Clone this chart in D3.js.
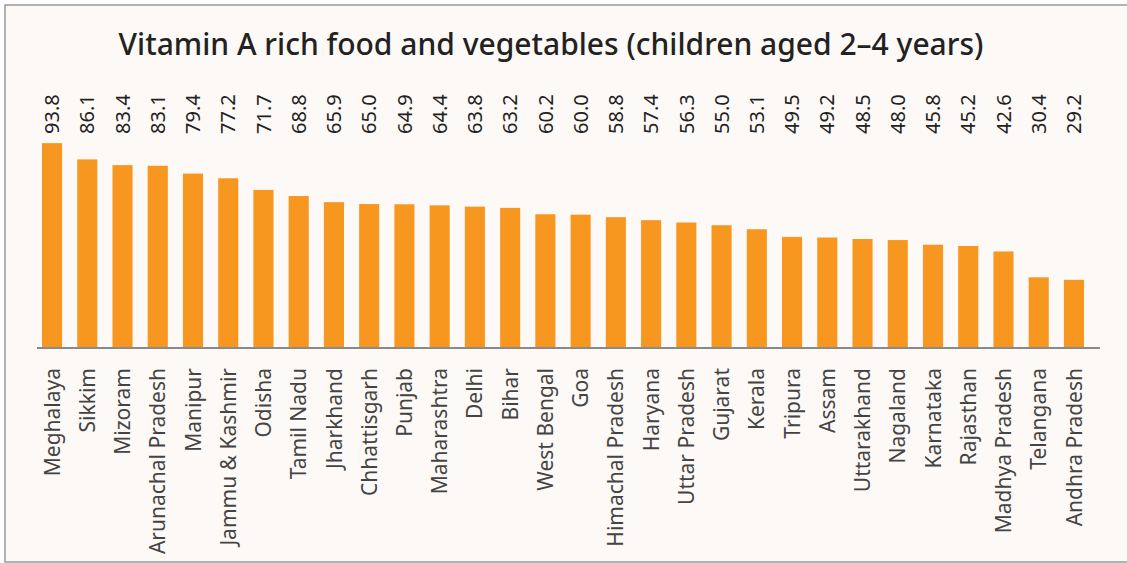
<!DOCTYPE html>
<html>
<head>
<meta charset="utf-8">
<script src="https://cdn.jsdelivr.net/npm/d3@7"></script>
<style>
  body { margin: 0; background: #fff; }
  svg { display: block; }
</style>
</head>
<body>
<div id="chart"></div>
<script>
// data
const states = ["Meghalaya", "Sikkim", "Mizoram", "Arunachal Pradesh", "Manipur", "Jammu & Kashmir",
  "Odisha", "Tamil Nadu", "Jharkhand", "Chhattisgarh", "Punjab", "Maharashtra", "Delhi", "Bihar",
  "West Bengal", "Goa", "Himachal Pradesh", "Haryana", "Uttar Pradesh", "Gujarat", "Kerala",
  "Tripura", "Assam", "Uttarakhand", "Nagaland", "Karnataka", "Rajasthan", "Madhya Pradesh",
  "Telangana", "Andhra Pradesh"];
const values = [93.8, 86.1, 83.4, 83.1, 79.4, 77.2, 71.7, 68.8, 65.9, 65.0, 64.9, 64.4, 63.8, 63.2,
  60.2, 60.0, 58.8, 57.4, 56.3, 55.0, 53.1, 49.5, 49.2, 48.5, 48.0, 45.8, 45.2, 42.6, 30.4, 29.2];
const titleText = "Vitamin A rich food and vegetables (children aged 2\u20134 years)";

const data = states.map((s, i) => ({ name: s, value: values[i] }));

const WIDTH = 1127, HEIGHT = 563;
const FONT = "'Noto Sans', sans-serif";

const svg = d3.select("#chart").append("svg")
  .attr("width", WIDTH)
  .attr("height", HEIGHT);

// panel background + frame
svg.append("rect")
  .attr("x", 5).attr("y", 5)
  .attr("width", WIDTH + 10).attr("height", HEIGHT - 6)
  .attr("fill", "#fdf9f6")
  .attr("stroke", "#9a9a9a")
  .attr("stroke-width", 1.5);

// scales
const x = d3.scaleBand()
  .domain(states)
  .range([42, 1084])
  .paddingInner(0.43)
  .paddingOuter(0);

const y = d3.scaleLinear()
  .domain([-3, 100])
  .range([348, 130]);

// title
svg.append("text")
  .attr("x", 551)
  .attr("y", 55)
  .attr("text-anchor", "middle")
  .attr("font-family", FONT)
  .attr("font-size", "30px")
  .attr("font-weight", 500)
  .attr("fill", "#222")
  .text(titleText);

// bars
svg.selectAll("rect.bar")
  .data(data)
  .enter()
  .append("rect")
  .attr("class", "bar")
  .attr("x", d => x(d.name))
  .attr("y", d => y(d.value))
  .attr("width", x.bandwidth())
  .attr("height", d => y(-3) - y(d.value))
  .attr("fill", "#f7971f");

// baseline
svg.append("line")
  .attr("x1", 37).attr("x2", 1100)
  .attr("y1", y(-3)).attr("y2", y(-3))
  .attr("stroke", "#8a8a8a")
  .attr("stroke-width", 2);

// value labels, all on one row above the bars
svg.selectAll("text.val")
  .data(data)
  .enter()
  .append("text")
  .attr("class", "val")
  .attr("transform", d => `translate(${x(d.name) + x.bandwidth() / 2}, 134) rotate(-90)`)
  .attr("dy", "0.36em")
  .attr("font-family", FONT)
  .attr("font-size", "20px")
  .attr("fill", "#222")
  .text(d => d.value.toFixed(1));

// category labels under the axis
svg.selectAll("text.cat")
  .data(data)
  .enter()
  .append("text")
  .attr("class", "cat")
  .attr("transform", d => `translate(${x(d.name) + x.bandwidth() / 2}, 368) rotate(-90)`)
  .attr("dy", "0.36em")
  .attr("text-anchor", "end")
  .attr("font-family", FONT)
  .attr("font-size", "21px")
  .attr("fill", "#444")
  .text(d => d.name);
</script>
</body>
</html>
